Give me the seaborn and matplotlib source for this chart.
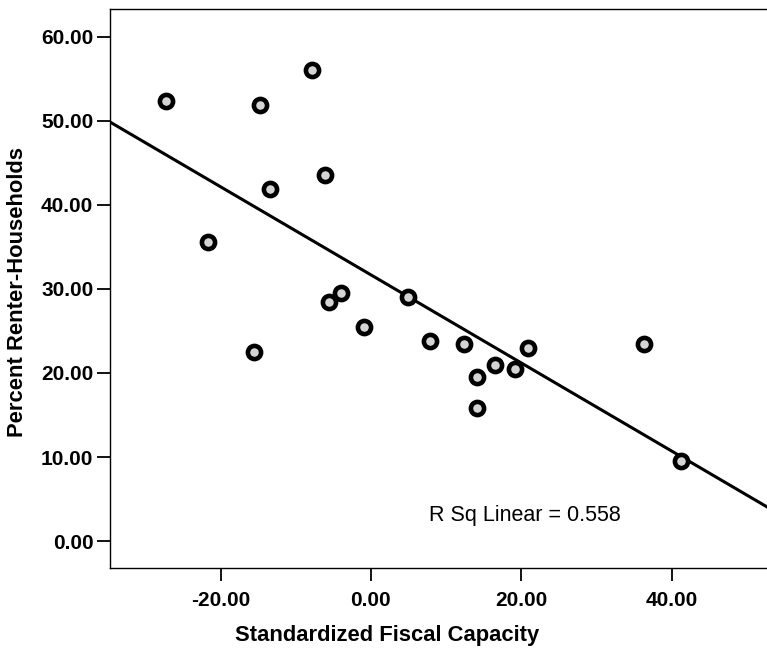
import matplotlib
matplotlib.use("Agg")
import matplotlib.pyplot as plt
import numpy as np
import pandas as pd
import seaborn as sns

# values
fiscal_capacity = [-27.3, -14.8, -7.8, -6.1, -13.4, -21.6, -4.0, -5.6, -0.9, -15.5,
                   5.0, 7.9, 12.4, 16.5, 14.1, 19.2, 20.9, 14.1, 36.4, 41.2]
renter_pct = [52.3, 51.9, 56.1, 43.6, 41.9, 35.6, 29.5, 28.5, 25.5, 22.5,
              29.0, 23.8, 23.5, 21.0, 19.5, 20.5, 23.0, 15.8, 23.5, 9.5]
x_ticks = [-20, 0, 20, 40]
y_ticks = [0, 10, 20, 30, 40, 50, 60]
r_sq_text = "R Sq Linear = 0.558"

df = pd.DataFrame({"Standardized Fiscal Capacity": fiscal_capacity,
                   "Percent Renter-Households": renter_pct})

sns.set_style("ticks")
plt.rcParams['font.family'] = ['Liberation Sans', 'DejaVu Sans']

fig = plt.figure(figsize=(7.67, 6.49), dpi=100)
ax_w = 1 - 110 / 767 + 0.002
ax = fig.add_axes([110 / 767, 1 - 568 / 649, ax_w, (568 - 9) / 649])

xlim = (-34.7, 52.9)
ylim = (-3.2, 63.3)
ax.set_xlim(xlim)
ax.set_ylim(ylim)

sns.regplot(data=df, x="Standardized Fiscal Capacity", y="Percent Renter-Households",
            ax=ax, ci=None, truncate=False,
            scatter_kws=dict(s=90, facecolor="#d4d4d4", edgecolor="black",
                             linewidths=3.3, alpha=1, zorder=3),
            line_kws=dict(color="black", lw=2.2, zorder=2))

ax.set_xlim(xlim)
ax.set_ylim(ylim)

ax.set_xticks(x_ticks)
ax.set_xticklabels([f"{v:.2f}" for v in x_ticks])
ax.set_yticks(y_ticks)
ax.set_yticklabels([f"{v:.2f}" for v in y_ticks])

for s in ["left", "bottom", "top"]:
    ax.spines[s].set_visible(True)
    ax.spines[s].set_linewidth(1.0)
    ax.spines[s].set_color("black")
ax.spines["right"].set_visible(False)

ax.tick_params(axis="both", direction="out", length=9.5, width=1.3, color="black",
               labelsize=15, labelcolor="black")
ax.tick_params(axis="x", pad=7)
ax.tick_params(axis="y", pad=2.5)
for lab in ax.get_xticklabels() + ax.get_yticklabels():
    lab.set_fontweight("bold")

ax.set_xlabel("Standardized Fiscal Capacity", fontsize=15.8, fontweight="bold", color="black")
ax.set_ylabel("Percent Renter-Households", fontsize=15.8, fontweight="bold", color="black")
ax.xaxis.set_label_coords((387 - 110) / (ax_w * 767), (568 - 635) / 559)
ax.xaxis.label.set_va("center")
ax.yaxis.set_label_coords((18 - 110) / (ax_w * 767), (568 - 292) / 559)
ax.yaxis.label.set_va("center")

ax.text(7.7, 3.0, r_sq_text, fontsize=15.5, ha="left", va="center", color="black")

fig.savefig("out.png", dpi=100)
